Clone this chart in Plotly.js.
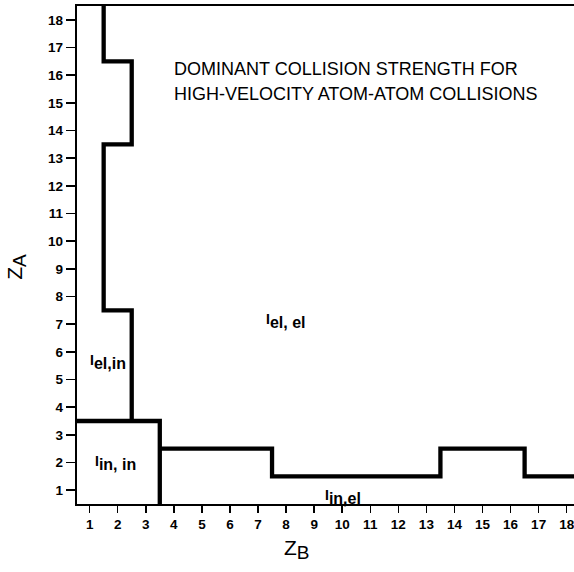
<!DOCTYPE html>
<html>
<head>
<meta charset="utf-8">
<script src="https://cdn.plot.ly/plotly-3.0.1.min.js"></script>
<style>html,body{margin:0;padding:0;background:#fff;}</style>
</head>
<body>
<div id="chart" style="width:574px;height:572px;"></div>
<script>
// Tick labels
const zTicks = [1,2,3,4,5,6,7,8,9,10,11,12,13,14,15,16,17,18];

// Boundary I_el,el / I_el,in : for each Z_A row, largest Z_B where I_el,in dominates
const zaRows      = [4,5,6,7,8,9,10,11,12,13,14,15,16,17,18];
const elInMaxZB   = [2,2,2,2,1,1,1,1,1,1,2,2,2,1,1];

// Boundary I_el,el / I_in,el : for each Z_B column, largest Z_A where I_in,el dominates
const zbCols      = [4,5,6,7,8,9,10,11,12,13,14,15,16,17,18];
const inElMaxZA   = [2,2,2,2,1,1,1,1,1,1,2,2,2,1,1];

// I_in,in region: Z_A <= 3 and Z_B <= 3
const inInMaxZA = 3;
const inInMaxZB = 3;

// Region labels (subscripts)
const regionSubs   = ["el, el", "el,in", "in, in", "in,el"];
const regionLabelZB = [7.21, 0.94, 1.12, 9.32];
const regionLabelZA = [7.12, 5.62, 2.0, 0.74];

const titleLines = ["DOMINANT COLLISION STRENGTH FOR", "HIGH-VELOCITY ATOM-ATOM COLLISIONS"];

// Build step boundaries from the row/column values
const b1x = [], b1y = [];
zaRows.forEach((r, i) => { b1x.push(elInMaxZB[i] + 0.5, elInMaxZB[i] + 0.5); b1y.push(r - 0.5, r + 0.5); });
const b2x = [], b2y = [];
zbCols.forEach((c, i) => { b2x.push(c - 0.5, c + 0.5); b2y.push(inElMaxZA[i] + 0.5, inElMaxZA[i] + 0.5); });
const b3x = [0, inInMaxZB + 0.5, inInMaxZB + 0.5];
const b3y = [inInMaxZA + 0.5, inInMaxZA + 0.5, 0];

const lineStyle = {color: '#000', width: 4.3};
const traces = [
  {x: b1x, y: b1y, mode: 'lines', line: lineStyle, hoverinfo: 'skip'},
  {x: b2x, y: b2y, mode: 'lines', line: lineStyle, hoverinfo: 'skip'},
  {x: b3x, y: b3y, mode: 'lines', line: lineStyle, hoverinfo: 'skip'}
];

const FONT = 'Liberation Sans, Arial, sans-serif';
const annotations = regionSubs.map((s, i) => ({
  x: regionLabelZB[i], y: regionLabelZA[i], xref: 'x', yref: 'y', xanchor: 'left', yanchor: 'middle',
  text: "<span style='font-size:14px;font-weight:bold'>I</span><sub><span style='font-size:16px;font-weight:bold'>" + s + "</span></sub>",
  showarrow: false, font: {family: FONT, size: 20, color: '#000'}
}));
annotations.push(
  {x: 3.93, y: 16.23, xref: 'x', yref: 'y', xanchor: 'left', yanchor: 'middle', text: titleLines[0], showarrow: false,
   font: {family: FONT, size: 18, color: '#000'}},
  {x: 3.93, y: 15.33, xref: 'x', yref: 'y', xanchor: 'left', yanchor: 'middle', text: titleLines[1], showarrow: false,
   font: {family: FONT, size: 18, color: '#000'}},
  {x: 0.4427, y: -0.092, xref: 'paper', yref: 'paper', xanchor: 'center', yanchor: 'middle',
   text: "Z<sub><span style='font-size:19px'>B</span></sub>",
   showarrow: false, font: {family: FONT, size: 21, color: '#000'}},
  {x: -0.121, y: 0.476, xref: 'paper', yref: 'paper', xanchor: 'center', yanchor: 'middle', textangle: -90,
   text: "Z<sub><span style='font-size:19px'>A</span></sub>",
   showarrow: false, font: {family: FONT, size: 21, color: '#000'}}
);

const layout = {
  width: 574, height: 572,
  margin: {l: 77, r: 0, t: 6, b: 68},
  paper_bgcolor: '#fff', plot_bgcolor: '#fff',
  showlegend: false,
  xaxis: {
    range: [0.55, 18.26], tickvals: zTicks, ticktext: zTicks.map(String),
    showgrid: false, zeroline: false, showline: true, linewidth: 2.2, linecolor: '#000', mirror: true,
    ticks: 'outside', ticklen: 7, tickwidth: 1.5, tickcolor: '#000', ticklabeloverflow: 'allow',
    tickfont: {family: FONT, size: 13.5, color: '#000', weight: 'bold'}
  },
  yaxis: {
    range: [0.5, 18.5], tickvals: zTicks, ticktext: zTicks.map(String),
    showgrid: false, zeroline: false, showline: true, linewidth: 2.2, linecolor: '#000',
    ticks: 'outside', ticklen: 9, tickwidth: 1.5, tickcolor: '#000',
    tickfont: {family: FONT, size: 13.5, color: '#000', weight: 'bold'}
  },
  annotations: annotations
};

Plotly.newPlot('chart', traces, layout, {staticPlot: true, displayModeBar: false});
</script>
</body>
</html>
